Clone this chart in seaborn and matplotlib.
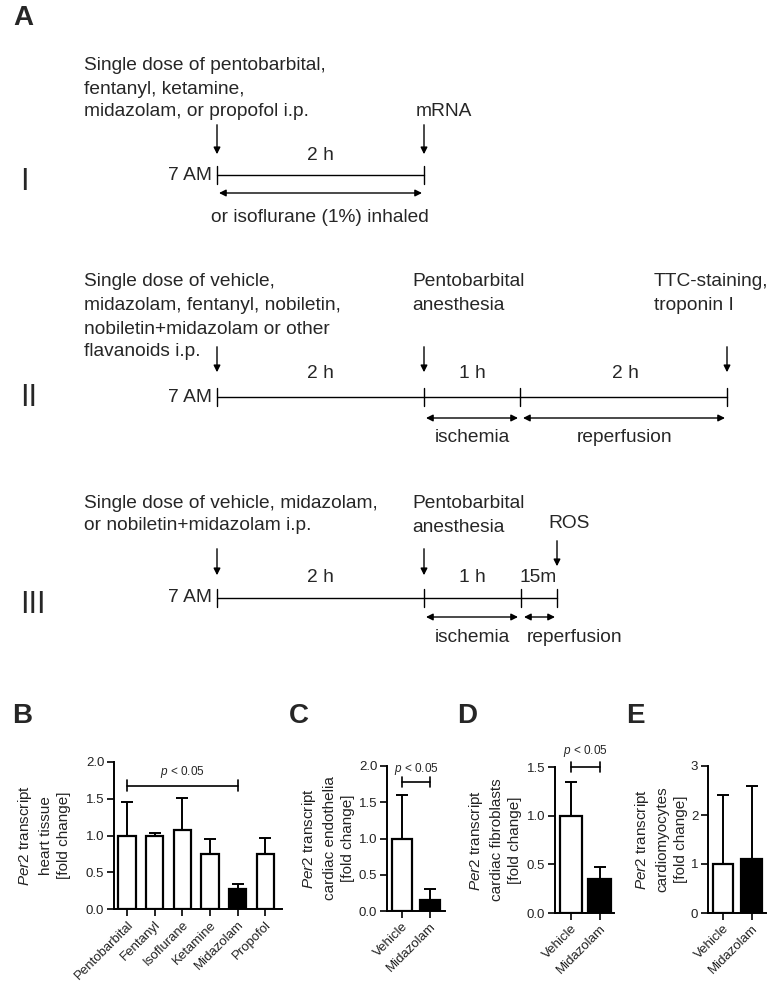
import matplotlib.pyplot as plt
import numpy as np
import seaborn as sns

# panel B: heart tissue
b_cats = ["Pentobarbital", "Fentanyl", "Isoflurane", "Ketamine", "Midazolam", "Propofol"]
b_vals = [1.0, 1.0, 1.08, 0.75, 0.27, 0.75]
b_errs = [0.46, 0.03, 0.43, 0.20, 0.07, 0.21]
b_fill = ["white", "white", "white", "white", "black", "white"]

# panels C, D, E: isolated cells
cell_cats = ["Vehicle", "Midazolam"]
c_vals = [1.0, 0.15]
c_errs = [0.60, 0.15]
d_vals = [1.0, 0.35]
d_errs = [0.35, 0.12]
e_vals = [1.0, 1.1]
e_errs = [1.4, 1.5]
cell_fill = ["white", "black"]

sns.set_theme(style="ticks")
plt.rcParams["font.family"] = ["Liberation Sans", "DejaVu Sans"]
plt.rcParams["mathtext.fontset"] = "custom"
plt.rcParams["mathtext.it"] = "Liberation Sans:italic"
plt.rcParams["mathtext.rm"] = "Liberation Sans"

W, H = 774, 1000
fig = plt.figure(figsize=(W / 100, H / 100), dpi=100)

# ---------- panel A: schematic, drawn in pixel coordinates ----------
ax0 = fig.add_axes([0, 0, 1, 1])
ax0.set_xlim(0, W)
ax0.set_ylim(H, 0)
ax0.axis("off")

FS = 13.8


def txt(x, y, s, **kw):
    kw.setdefault("fontsize", FS)
    kw.setdefault("va", "center")
    ax0.text(x, y, s, **kw)


def down_arrow(x, y0, y1):
    ax0.annotate("", xy=(x, y1), xytext=(x, y0),
                 arrowprops=dict(arrowstyle="-|>", color="black", lw=1, mutation_scale=10))


def span_arrow(x0, x1, y):
    ax0.annotate("", xy=(x1, y), xytext=(x0, y),
                 arrowprops=dict(arrowstyle="<|-|>", color="black", lw=1, mutation_scale=10,
                                 shrinkA=0, shrinkB=0))


def timeline(xs, y):
    ax0.plot([xs[0], xs[-1]], [y, y], color="black", lw=1)
    for x in xs:
        ax0.plot([x, x], [y - 9, y + 9], color="black", lw=1)


txt(13, 18, "A", fontsize=20, fontweight="bold")

# I
txt(84, 65, "Single dose of pentobarbital,")
txt(84, 89, "fentanyl, ketamine,")
txt(84, 112, "midazolam, or propofol i.p.")
txt(416, 112, "mRNA")
down_arrow(217, 122, 157)
down_arrow(424, 122, 157)
txt(320, 155, "2 h", ha="center")
txt(20, 182, "I", fontsize=22)
txt(212, 175, "7 AM", ha="right")
timeline([217, 424], 175)
span_arrow(219, 422, 193)
txt(320, 217, "or isoflurane (1%) inhaled", ha="center")

# II
txt(84, 282, "Single dose of vehicle,")
txt(84, 306, "midazolam, fentanyl, nobiletin,")
txt(84, 329, "nobiletin+midazolam or other")
txt(84, 352, "flavanoids i.p.")
txt(412, 282, "Pentobarbital")
txt(412, 306, "anesthesia")
txt(654, 282, "TTC-staining,")
txt(654, 306, "troponin I")
down_arrow(217, 344, 375)
down_arrow(424, 344, 375)
down_arrow(727, 344, 375)
txt(320, 374, "2 h", ha="center")
txt(472, 374, "1 h", ha="center")
txt(625, 374, "2 h", ha="center")
txt(20, 398, "II", fontsize=22)
txt(212, 397, "7 AM", ha="right")
timeline([217, 424, 520, 727], 397)
span_arrow(426, 518, 418)
span_arrow(523, 725, 418)
txt(472, 438, "ischemia", ha="center")
txt(625, 438, "reperfusion", ha="center")

# III
txt(84, 503, "Single dose of vehicle, midazolam,")
txt(84, 526, "or nobiletin+midazolam i.p.")
txt(412, 503, "Pentobarbital")
txt(412, 528, "anesthesia")
txt(548, 523, "ROS")
down_arrow(217, 546, 578)
down_arrow(424, 546, 578)
down_arrow(557, 538, 569)
txt(320, 577, "2 h", ha="center")
txt(472, 577, "1 h", ha="center")
txt(538, 577, "15m", ha="center")
txt(20, 605, "III", fontsize=22)
txt(212, 598, "7 AM", ha="right")
timeline([217, 424, 521, 557], 598)
span_arrow(426, 518, 617)
span_arrow(524, 555, 617)
txt(472, 637, "ischemia", ha="center")
txt(575, 637, "reperfusion", ha="center")

# panel letters for the bar charts
for lx, lab in [(12, "B"), (289, "C"), (457, "D"), (626, "E")]:
    txt(lx, 716, lab, fontsize=20, fontweight="bold")


# ---------- bar panels ----------
def bar_panel(px_left, px_right, px_top, px_bottom, cats, vals, errs, fill,
              ylim, yticks, fmt, xlim, width, label, label_right):
    ax = fig.add_axes([px_left / W, 1 - px_bottom / H,
                       (px_right - px_left) / W, (px_bottom - px_top) / H])
    sns.barplot(x=cats, y=vals, hue=cats, palette=fill, legend=False,
                edgecolor="black", linewidth=1.6, width=width, ax=ax, zorder=2)
    ax.errorbar(np.arange(len(cats)), vals, yerr=[np.zeros(len(vals)), errs],
                fmt="none", ecolor="black", elinewidth=1.4, capsize=4.5, capthick=1.4,
                zorder=1)
    ax.set_xlim(*xlim)
    ax.set_ylim(*ylim)
    ax.set_yticks(yticks)
    ax.set_yticklabels([fmt.format(t) for t in yticks])
    ax.set_xticks(np.arange(len(cats)))
    ax.set_xticklabels(cats, rotation=45, ha="right", rotation_mode="anchor")
    ax.tick_params(axis="both", direction="out", length=5, width=1.2,
                   labelsize=9.5, color="black", labelcolor="#222222")
    ax.tick_params(axis="x", pad=2)
    ax.tick_params(axis="y", pad=2)
    for s in ("left", "bottom"):
        ax.spines[s].set_linewidth(1.4)
        ax.spines[s].set_color("black")
    sns.despine(ax=ax)
    ax.set_xlabel("")
    ax.set_ylabel(label, fontsize=11, linespacing=1.4, color="#222222")
    ax.yaxis.set_label_coords((label_right - px_left) / (px_right - px_left), 0.5)
    return ax


def bracket(ax, x0, x1, y, ytext, h):
    ax.plot([x0, x1], [y, y], color="black", lw=1.2, clip_on=False)
    for x in (x0, x1):
        ax.plot([x, x], [y - h, y + h], color="black", lw=1.2, clip_on=False)
    ax.text((x0 + x1) / 2, ytext, r"$\it{p}$ < 0.05", ha="center", va="center",
            fontsize=8.5, clip_on=False)


axB = bar_panel(114, 282, 762, 909, b_cats, b_vals, b_errs, b_fill,
                (0, 2), [0, 0.5, 1.0, 1.5, 2.0], "{:.1f}", (-0.47, 5.6), 0.62,
                "$\\it{Per2}$ transcript\nheart tissue\n[fold change]", 71)
bracket(axB, 0, 4, 1.68, 1.86, 0.07)

axC = bar_panel(387, 445, 766, 911, cell_cats, c_vals, c_errs, cell_fill,
                (0, 2), [0, 0.5, 1.0, 1.5, 2.0], "{:.1f}", (-0.54, 1.55), 0.72,
                "$\\it{Per2}$ transcript\ncardiac endothelia\n[fold change]", 355)
bracket(axC, 0, 1, 1.78, 1.96, 0.07)

axD = bar_panel(555, 614, 767, 913, cell_cats, d_vals, d_errs, cell_fill,
                (0, 1.5), [0, 0.5, 1.0, 1.5], "{:.1f}", (-0.55, 1.5), 0.78,
                "$\\it{Per2}$ transcript\ncardiac fibroblasts\n[fold change]", 522)
bracket(axD, 0, 1, 1.5, 1.66, 0.055)

axE = bar_panel(708, 766, 766, 913, cell_cats, e_vals, e_errs, cell_fill,
                (0, 3), [0, 1, 2, 3], "{:.0f}", (-0.52, 1.5), 0.72,
                "$\\it{Per2}$ transcript\ncardiomyocytes\n[fold change]", 688)

fig.savefig("out.png", dpi=100, facecolor="white")
